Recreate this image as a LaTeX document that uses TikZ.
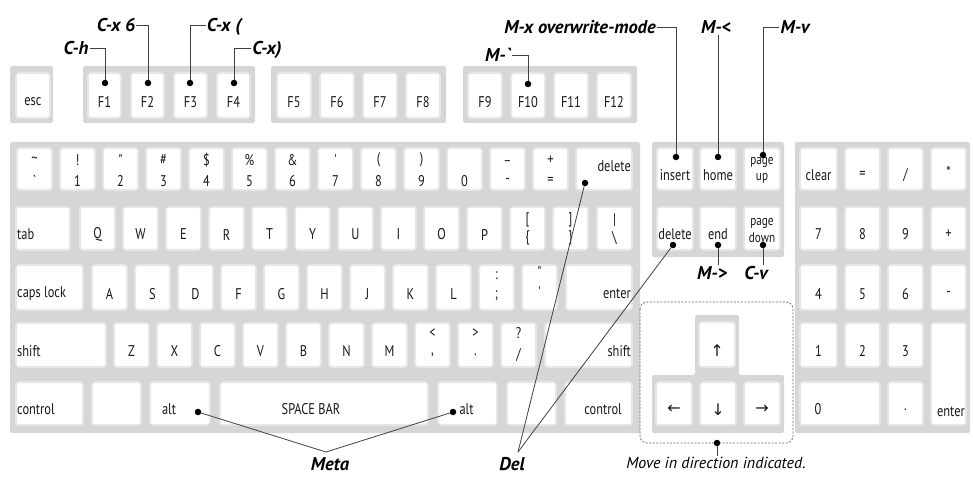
\documentclass[tikz,border=0pt]{standalone}
\usepackage{fontspec}
\newfontfamily\keyfont[FakeStretch=0.8]{PT Sans}
\newfontfamily\callfont{PT Sans}
\newfontfamily\symfont{DejaVu Sans}
\usetikzlibrary{calc}
\definecolor{grpgray}{RGB}{214,214,214}
\definecolor{keyedge}{RGB}{230,230,230}
\tikzset{
  grp/.style={fill=grpgray, rounded corners=2pt},
  keybox/.style={fill=white, draw=keyedge, line width=1.6pt, rounded corners=3pt, inner sep=0pt},
  klab/.style={font=\keyfont\fontsize{15.5}{15.5}\selectfont, inner sep=0.5pt, text=black!90},
  slab/.style={klab, font=\keyfont\fontsize{14}{14}\selectfont},
  lleft/.style={anchor=west, xshift={-0.5*\kw*1pt+0.5pt}},
  lright/.style={anchor=east, xshift={0.5*\kw*1pt-0.5pt}},
  call/.style={font=\callfont\bfseries\itshape\fontsize{18.5}{18.5}\selectfont, inner sep=1pt, text height=13pt, text depth=0pt},
  lead/.style={draw=black!75, line width=0.8pt},
  kdot/.style={circle, fill=black, inner sep=0pt, minimum size=6.5pt},
}
% \mykey[label opts]{name}{x1}{y1}{x2}{y2}{label}
\newcommand\mykey[7][]{%
  \pgfmathsetmacro\kw{#5-#3}\pgfmathsetmacro\kh{#6-#4}%
  \pgfmathsetmacro\kx{(#3+#5)/2}\pgfmathsetmacro\ky{(#4+#6)/2}%
  \pgfmathsetmacro\ly{#4+0.64*(#6-#4)}%
  \node[keybox,minimum width=\kw pt,minimum height=\kh pt] (#2) at (\kx,\ky) {};
  \node[klab,#1] (#2-l) at (\kx,\ly) {#7};}
% \dualkey{name}{x1}{y1}{x2}{y2}{top}{bottom}{ytop}{ybottom}
\newcommand\dualkey[9]{%
  \mykey{#1}{#2}{#3}{#4}{#5}{}%
  \node[klab] (#1-a) at (\kx,#8) {#6};
  \node[klab] (#1-b) at (\kx,#9) {#7};}
\begin{document}
\begin{tikzpicture}[x=1pt,y=-1pt]
\useasboundingbox (0,0) rectangle (973,486);
% ---------- group backgrounds ----------
\fill[grp] (10,66) rectangle (53,123);
\fill[grp] (83,66) rectangle (255,123);
\fill[grp] (271,66) rectangle (446,123);
\fill[grp] (463,66) rectangle (637,123);
\fill[grp] (10,142) rectangle (640,433);
\fill[grp] (652,142) rectangle (784,257);
\fill[grp] (795,142) rectangle (970,433);
\fill[grp] (652,375) -- (695,375) -- (695,315) -- (739,315) -- (739,375) -- (784,375) -- (784,433) -- (652,433) -- cycle;
% ---------- function row ----------
\mykey{esc}{16}{73}{50}{118}{esc}
\mykey{f1}{88}{73}{121}{118}{F1}
\mykey{f2}{131}{73}{164}{118}{F2}
\mykey{f3}{174}{73}{207}{118}{F3}
\mykey{f4}{217}{73}{250}{118}{F4}
\mykey{f5}{277}{73}{311}{118}{F5}
\mykey{f6}{320}{73}{354}{118}{F6}
\mykey{f7}{363}{73}{397}{118}{F7}
\mykey{f8}{406}{73}{440}{118}{F8}
\mykey{f9}{468}{73}{502}{118}{F9}
\mykey{f10}{511}{73}{545}{118}{F10}
\mykey{f11}{554}{73}{588}{118}{F11}
\mykey{f12}{597}{73}{631}{118}{F12}
% ---------- number row ----------
\dualkey{kgrave}{17}{148}{52}{190}{\symbol{126}}{\symbol{96}}{160}{181}
\dualkey{k1}{60}{148}{95}{190}{!}{1}{160}{181}
\dualkey{k2}{103}{148}{138}{190}{\symbol{34}}{2}{160}{181}
\dualkey{k3}{146}{148}{181}{190}{\#}{3}{160}{181}
\dualkey{k4}{189}{148}{224}{190}{\$}{4}{160}{181}
\dualkey{k5}{232}{148}{267}{190}{\%}{5}{160}{181}
\dualkey{k6}{275}{148}{310}{190}{\&}{6}{160}{181}
\dualkey{k7}{318}{148}{353}{190}{\symbol{39}}{7}{160}{181}
\dualkey{k8}{361}{148}{396}{190}{(}{8}{160}{181}
\dualkey{k9}{404}{148}{439}{190}{)}{9}{160}{181}
\dualkey{k0}{447}{148}{482}{190}{}{0}{160}{181}
\dualkey{kminus}{490}{148}{525}{190}{\_}{-}{160}{181}
\dualkey{kequal}{533}{148}{568}{190}{+}{=}{160}{181}
\mykey[lright,yshift=9pt]{kdel}{576}{148}{632}{190}{delete}
% ---------- QWERTY row ----------
\mykey[lleft]{ktab}{16}{207}{70}{250}{tab}
\mykey{kq}{80}{207}{115}{250}{Q}
\mykey{kw}{123}{207}{158}{250}{W}
\mykey{ke}{166}{207}{201}{250}{E}
\mykey{kr}{209}{207}{244}{250}{R}
\mykey{kt}{252}{207}{287}{250}{T}
\mykey{ky}{295}{207}{330}{250}{Y}
\mykey{ku}{338}{207}{373}{250}{U}
\mykey{ki}{381}{207}{416}{250}{I}
\mykey{ko}{424}{207}{459}{250}{O}
\mykey{kp}{467}{207}{502}{250}{P}
\dualkey{klbr}{510}{207}{545}{250}{[}{\{}{220}{238}
\dualkey{krbr}{553}{207}{588}{250}{]}{\}}{220}{238}
\dualkey{kbsl}{597}{207}{632}{250}{\symbol{124}}{\symbol{92}}{220}{238}
% ---------- home row ----------
\mykey[lleft]{kcaps}{16}{265}{83}{310}{caps lock}
\mykey{ka}{92}{265}{127}{310}{A}
\mykey{ks}{135}{265}{170}{310}{S}
\mykey{kd}{178}{265}{213}{310}{D}
\mykey{kf}{221}{265}{256}{310}{F}
\mykey{kg}{264}{265}{299}{310}{G}
\mykey{kh}{307}{265}{342}{310}{H}
\mykey{kj}{350}{265}{385}{310}{J}
\mykey{kk}{393}{265}{428}{310}{K}
\mykey{kl}{436}{265}{471}{310}{L}
\dualkey{ksemi}{479}{265}{514}{310}{:}{;}{276}{296}
\dualkey{kquote}{522}{265}{557}{310}{\symbol{34}}{\symbol{39}}{272}{292}
\mykey[lright]{kenter}{566}{265}{632}{310}{enter}
% ---------- shift row ----------
\mykey[lleft]{kshl}{16}{323}{106}{367}{shift}
\mykey{kz}{114}{323}{149}{367}{Z}
\mykey{kx}{157}{323}{192}{367}{X}
\mykey{kc}{200}{323}{235}{367}{C}
\mykey{kv}{243}{323}{278}{367}{V}
\mykey{kb}{286}{323}{321}{367}{B}
\mykey{kn}{329}{323}{364}{367}{N}
\mykey{km}{372}{323}{407}{367}{M}
\dualkey{kcomma}{415}{323}{450}{367}{<}{,}{333}{355}
\dualkey{kdot}{458}{323}{493}{367}{>}{.}{333}{355}
\dualkey{kslash}{501}{323}{536}{367}{?}{/}{333}{355}
\mykey[lright]{kshr}{545}{323}{632}{367}{shift}
% ---------- bottom row ----------
\mykey[lleft]{kctl}{16}{382}{83}{425}{control}
\mykey{kblank1}{92}{382}{141}{425}{}
\mykey[xshift=-11pt]{kaltl}{150}{382}{210}{425}{alt}
\mykey[xshift=-13pt]{kspace}{220}{382}{428}{425}{SPACE BAR}
\mykey[xshift=-1pt]{kaltr}{438}{382}{497}{425}{alt}
\mykey{kblank2}{507}{382}{556}{425}{}
\mykey[lright,xshift=-9pt]{kctr}{565}{382}{632}{425}{control}
% ---------- navigation block ----------
\mykey{kins}{657}{148}{693}{190}{insert}
\mykey{khome}{700}{148}{736}{190}{home}
\mykey{kpgup}{744}{148}{780}{190}{}
\node[slab] (kpgup-a) at (762,162) {page};
\node[slab] (kpgup-b) at (762,178) {up};
\mykey{kdeln}{657}{207}{693}{250}{delete}
\mykey{kend}{700}{207}{736}{250}{end}
\mykey{kpgdn}{744}{207}{780}{250}{}
\node[slab] (kpgdn-a) at (762,223) {page};
\node[slab] (kpgdn-b) at (762,238) {down};
% ---------- arrows ----------
\mykey{kup}{699}{322}{735}{367}{\symfont\fontsize{16}{16}\selectfont ↑}
\mykey{kleft}{656}{382}{692}{425}{\symfont\fontsize{16}{16}\selectfont ←}
\mykey{kdown}{700}{382}{736}{425}{\symfont\fontsize{16}{16}\selectfont ↓}
\mykey{kright}{744}{382}{780}{425}{\symfont\fontsize{16}{16}\selectfont →}
% ---------- numeric keypad ----------
\mykey{nclear}{800}{148}{837}{190}{clear}
\mykey{neq}{845}{148}{880}{190}{=}
\mykey{ndiv}{888}{148}{923}{190}{/}
\mykey[yshift=3pt]{nmul}{931}{148}{966}{190}{*}
\mykey{n7}{800}{207}{837}{250}{7}
\mykey{n8}{845}{207}{880}{250}{8}
\mykey{n9}{888}{207}{923}{250}{9}
\mykey{nplus}{931}{207}{966}{250}{+}
\mykey{n4}{800}{265}{837}{310}{4}
\mykey{n5}{845}{265}{880}{310}{5}
\mykey{n6}{888}{265}{923}{310}{6}
\mykey{nminus}{931}{265}{966}{310}{-}
\mykey{n1}{800}{323}{837}{367}{1}
\mykey{n2}{845}{323}{880}{367}{2}
\mykey{n3}{888}{323}{923}{367}{3}
\mykey[xshift=-22pt]{n0}{800}{382}{880}{425}{0}
\mykey{ndec}{888}{382}{923}{425}{.}
\mykey[lright,yshift=-23pt]{nenter}{931}{323}{966}{425}{enter}
% ---------- dashed arrow frame ----------
\draw[draw=black!60, line width=0.7pt, dash pattern=on 2pt off 1.5pt, rounded corners=7pt] (640,302) rectangle (793,443);
% ---------- callout labels ----------
\node[call] (ch) at (76,48) {C-h};
\node[call] (cx6) at (116,25) {C-x 6};
\node[call] (cxo) at (224,25) {C-x (};
\node[call] (cxc) at (267,48) {C-x)};
\node[call] (mbq) at (498,55) {M-\symbol{96}};
\node[call] (mxo) at (580,27) {M-x overwrite-mode};
\node[call] (mlt) at (716,27) {M-<};
\node[call] (mv) at (795,27) {M-v};
\node[call] (mgt) at (712,273) {M->};
\node[call] (cv) at (756,273) {C-v};
\node[call] (meta) at (330,464) {Meta};
\node[call] (del) at (512,464) {Del};
\node[font=\callfont\itshape\fontsize{16}{16}\selectfont, inner sep=1pt] (move) at (716,463) {Move in direction indicated.};
% ---------- dots ----------
\node[kdot] (d-f1) at (105,83) {};
\node[kdot] (d-f2) at (148,83) {};
\node[kdot] (d-f3) at (190,83) {};
\node[kdot] (d-f4) at (234,83) {};
\node[kdot] (d-f10) at (528,84) {};
\node[kdot] (d-ins) at (676,157) {};
\node[kdot] (d-home) at (718,157) {};
\node[kdot] (d-pgup) at (763,155) {};
\node[kdot] (d-delm) at (585,183) {};
\node[kdot] (d-deln) at (673,245) {};
\node[kdot] (d-end) at (718,245) {};
\node[kdot] (d-pgdn) at (763,245) {};
\node[kdot] (d-altl) at (198,412) {};
\node[kdot] (d-altr) at (453,412) {};
\node[kdot] (d-arrow) at (717,443) {};
\coordinate (metaj) at (326,452);
\coordinate (delj) at (518,452);
% ---------- leaders ----------
\draw[lead] (ch.east) -| (d-f1);
\draw[lead] (cx6.east) -| (d-f2);
\draw[lead] (cxo.west) -| (d-f3);
\draw[lead] (cxc.west) -| (d-f4);
\draw[lead] (mbq.east) -| (d-f10);
\draw[lead] (mxo.east) -| (d-ins);
\draw[lead] (d-home |- mlt.south) -- (d-home);
\draw[lead] (mv.west) -| (d-pgup);
\draw[lead] (d-end) -- (d-end |- mgt.north);
\draw[lead] (d-pgdn) -- (d-pgdn |- cv.north);
\draw[lead] (d-altl) -- (metaj);
\draw[lead] (d-altr) -- (metaj);
\draw[lead] (d-delm) -- (delj);
\draw[lead] (d-deln) -- (delj);
\draw[lead] (d-arrow) -- (d-arrow |- move.north);
\end{tikzpicture}
\end{document}
